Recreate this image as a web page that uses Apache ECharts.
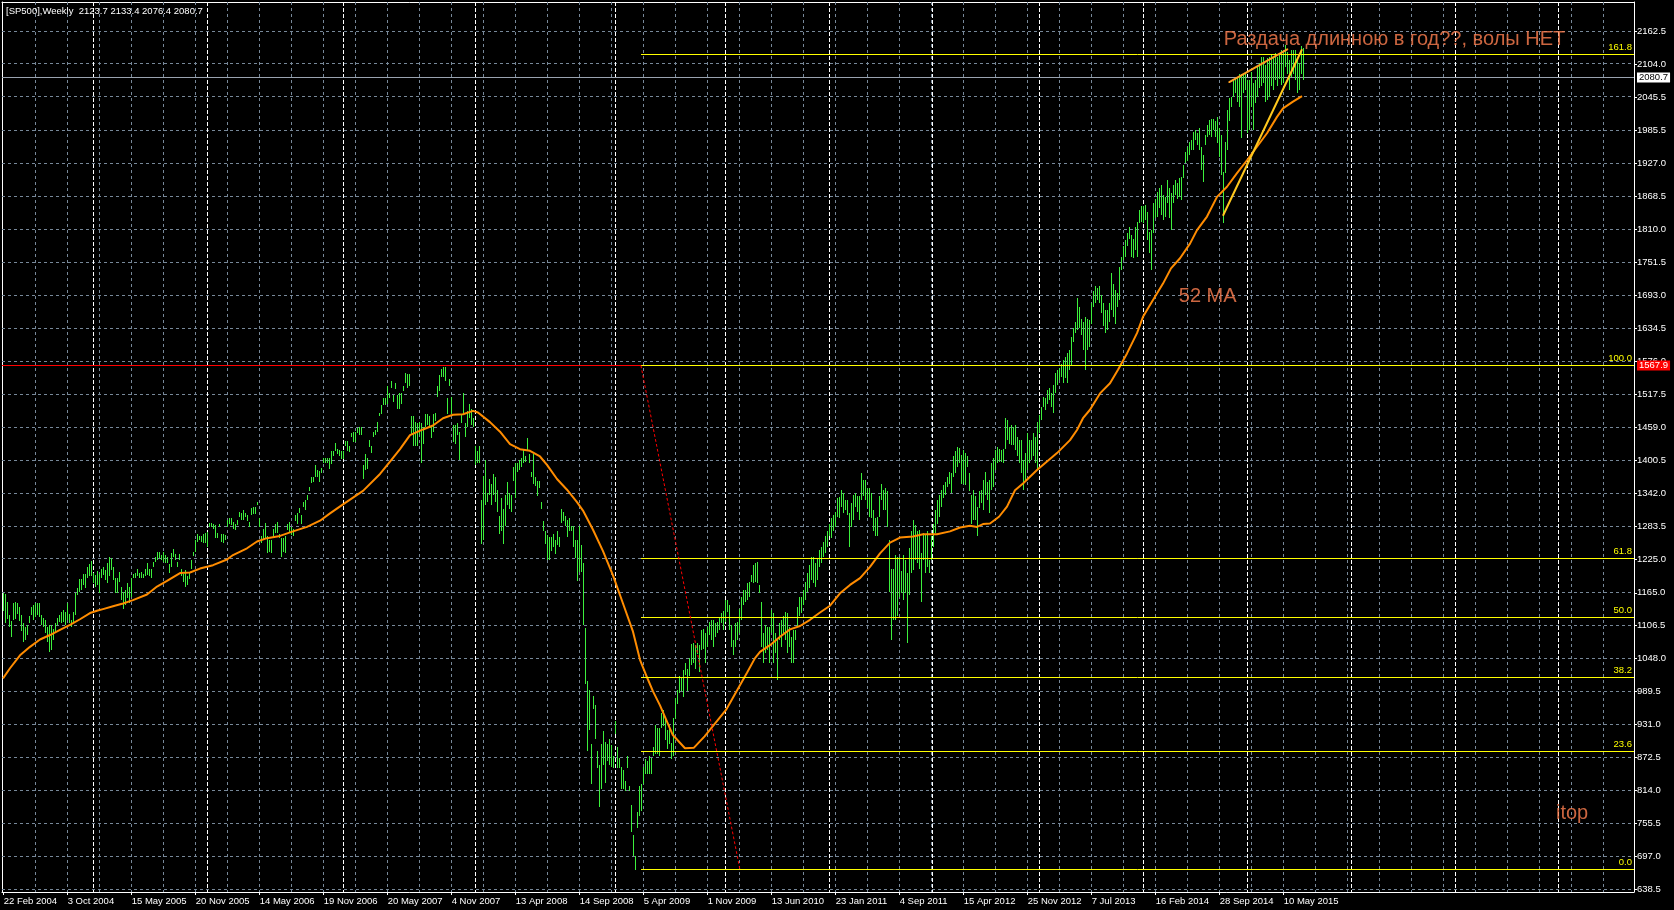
<!DOCTYPE html>
<html><head><meta charset="utf-8">
<script src="https://cdn.jsdelivr.net/npm/echarts@6/dist/echarts.min.js"></script>
<style>html,body{margin:0;padding:0;background:#000;}#c{width:1674px;height:910px;}</style>
</head><body><div id="c"></div>
<script>
// ---------------- DATA ----------------
const symbolName = '[SP500],Weekly';
const lastOHLC = [2123.7, 2133.4, 2076.4, 2080.7];
const dateLabels = ['22 Feb 2004','3 Oct 2004','15 May 2005','20 Nov 2005','14 May 2006','19 Nov 2006',
  '20 May 2007','4 Nov 2007','13 Apr 2008','14 Sep 2008','5 Apr 2009','1 Nov 2009','13 Jun 2010',
  '23 Jan 2011','4 Sep 2011','15 Apr 2012','25 Nov 2012','7 Jul 2013','16 Feb 2014','28 Sep 2014','10 May 2015'];
const barsPerDateLabel = 32;
const priceTicks = [638.5,697.0,755.5,814.0,872.5,931.0,989.5,1048.0,1106.5,1165.0,1225.0,1283.5,1342.0,
  1400.5,1459.0,1517.5,1576.0,1634.5,1693.0,1751.5,1810.0,1868.5,1927.0,1985.5,2045.5,2104.0,2162.5];
// year separators (bar position)
const yearSeparators = [45.7,102.7,170.7,236.7,306.7,361.7,413.7,465.4,518.7,570.7,622.9,674.8,726.5,778.4];
// weekly bars: [low, high]
const barRanges = [
[1133,1164],[1111,1162],[1119,1149],[1104,1125],[1087,1115],[1117,1146],[1119,1149],[1128,1146],[1115,1140],[1098,1125],
[1078,1111],[1081,1104],[1090,1108],[1111,1123],[1125,1140],[1117,1143],[1122,1146],[1125,1146],[1122,1146],[1108,1125],
[1104,1120],[1093,1117],[1078,1104],[1060,1108],[1063,1108],[1081,1100],[1096,1111],[1108,1121],[1114,1125],[1111,1131],
[1114,1134],[1108,1131],[1117,1146],[1111,1127],[1105,1117],[1114,1131],[1125,1164],[1161,1173],[1167,1189],[1170,1189],
[1179,1199],[1173,1199],[1191,1210],[1194,1216],[1194,1222],[1182,1200],[1176,1196],[1179,1204],[1165,1199],[1191,1208],
[1196,1211],[1188,1205],[1182,1217],[1194,1229],[1205,1226],[1188,1211],[1165,1191],[1164,1191],[1185,1202],[1152,1176],
[1137,1167],[1143,1170],[1155,1183],[1146,1176],[1158,1191],[1191,1199],[1192,1201],[1194,1207],[1192,1201],[1192,1202],
[1192,1199],[1194,1208],[1196,1218],[1194,1208],[1191,1207],[1210,1220],[1220,1229],[1224,1238],[1226,1238],[1223,1232],
[1220,1238],[1217,1232],[1218,1229],[1201,1216],[1210,1235],[1228,1242],[1224,1234],[1211,1220],[1224,1234],[1195,1208],
[1185,1199],[1176,1205],[1179,1195],[1189,1202],[1208,1223],[1230,1238],[1238,1258],[1256,1269],[1258,1266],[1256,1265],
[1253,1269],[1253,1272],[1247,1273],[1282,1289],[1282,1289],[1278,1288],[1262,1285],[1262,1271],[1282,1288],[1256,1269],
[1254,1269],[1259,1268],[1282,1294],[1288,1297],[1285,1297],[1279,1291],[1276,1288],[1285,1294],[1300,1309],[1295,1307],
[1294,1312],[1300,1307],[1293,1303],[1281,1291],[1303,1315],[1305,1317],[1305,1318],[1321,1327],[1282,1297],[1253,1265],
[1260,1279],[1262,1289],[1236,1265],[1238,1258],[1236,1259],[1262,1279],[1271,1288],[1271,1291],[1262,1269],[1228,1262],
[1238,1262],[1236,1265],[1276,1287],[1273,1291],[1268,1282],[1265,1278],[1293,1303],[1288,1306],[1306,1315],[1288,1303],
[1318,1327],[1312,1329],[1329,1339],[1345,1353],[1360,1371],[1362,1371],[1371,1392],[1371,1383],[1362,1382],[1377,1386],
[1395,1404],[1396,1404],[1395,1404],[1384,1404],[1394,1417],[1407,1417],[1417,1431],[1412,1420],[1407,1419],[1402,1417],
[1402,1417],[1426,1435],[1417,1434],[1415,1426],[1442,1448],[1432,1451],[1432,1451],[1448,1457],[1445,1459],[1445,1459],
[1367,1392],[1383,1411],[1384,1404],[1423,1437],[1414,1426],[1442,1451],[1445,1454],[1451,1468],[1479,1485],[1482,1498],
[1498,1510],[1498,1510],[1501,1532],[1510,1520],[1529,1541],[1504,1516],[1526,1538],[1492,1516],[1492,1520],[1501,1520],
[1523,1532],[1538,1556],[1529,1554],[1532,1554],[1445,1479],[1426,1479],[1426,1468],[1426,1467],[1445,1468],[1395,1467],
[1429,1460],[1460,1482],[1463,1482],[1457,1479],[1439,1463],[1451,1482],[1470,1485],[1513,1532],[1523,1551],[1548,1562],
[1549,1566],[1541,1566],[1482,1510],[1532,1544],[1482,1513],[1432,1463],[1429,1463],[1445,1467],[1401,1451],[1467,1482],
[1485,1520],[1442,1467],[1460,1488],[1476,1501],[1463,1492],[1460,1476],[1392,1426],[1395,1417],[1395,1426],[1252,1330],
[1258,1373],[1320,1401],[1326,1342],[1339,1367],[1320,1358],[1339,1376],[1326,1370],[1308,1348],[1270,1302],[1274,1333],
[1252,1314],[1283,1339],[1320,1361],[1314,1342],[1308,1339],[1364,1389],[1333,1395],[1379,1395],[1383,1401],[1389,1404],
[1395,1420],[1398,1407],[1417,1439],[1395,1411],[1370,1379],[1358,1411],[1355,1370],[1336,1364],[1351,1364],[1314,1326],
[1274,1292],[1252,1274],[1224,1267],[1224,1264],[1239,1264],[1246,1270],[1233,1258],[1249,1274],[1246,1264],[1289,1314],
[1292,1308],[1283,1302],[1264,1295],[1274,1298],[1274,1283],[1246,1283],[1227,1258],[1186,1258],[1202,1283],[1202,1249],
[1108,1217],[1003,1102],[884,1009],[922,993],[825,897],[959,981],[906,965],[853,884],[785,859],[816,897],
[859,919],[828,900],[866,897],[859,906],[856,894],[853,875],[915,937],[853,891],[853,872],[816,856],
[816,850],[813,831],[853,875],[813,822],[741,788],[697,735],[673,697],[747,775],[769,822],[778,825],
[825,856],[844,869],[844,866],[844,875],[844,872],[875,891],[878,931],[878,925],[875,925],[925,951],
[928,956],[904,945],[888,922],[896,931],[869,898],[875,943],[940,979],[968,993],[987,1018],[990,1013],
[980,1027],[1019,1040],[991,1029],[1017,1049],[1036,1074],[1041,1075],[1030,1072],[1057,1076],[1025,1072],[1063,1099],
[1066,1100],[1040,1093],[1069,1105],[1090,1114],[1081,1116],[1069,1117],[1087,1111],[1093,1114],[1099,1120],[1111,1129],
[1099,1133],[1114,1152],[1131,1152],[1099,1143],[1069,1108],[1055,1081],[1069,1111],[1081,1114],[1093,1137],[1117,1158],
[1143,1170],[1149,1170],[1152,1183],[1158,1185],[1185,1197],[1182,1214],[1185,1217],[1182,1220],[1164,1179],[1069,1149],
[1040,1093],[1058,1108],[1063,1105],[1040,1105],[1093,1134],[1040,1129],[1058,1093],[1011,1081],[1081,1111],[1069,1117],
[1093,1123],[1081,1131],[1058,1129],[1069,1105],[1040,1087],[1040,1099],[1081,1099],[1105,1140],[1123,1158],[1129,1158],
[1143,1170],[1152,1185],[1167,1200],[1173,1214],[1188,1229],[1182,1229],[1176,1217],[1188,1226],[1211,1241],[1217,1247],
[1229,1256],[1235,1265],[1247,1274],[1265,1288],[1262,1297],[1274,1303],[1282,1309],[1300,1333],[1297,1335],[1318,1348],
[1306,1342],[1312,1330],[1303,1330],[1247,1306],[1282,1324],[1294,1339],[1318,1342],[1309,1336],[1294,1336],[1330,1377],
[1336,1365],[1330,1365],[1315,1351],[1300,1351],[1297,1342],[1274,1312],[1265,1297],[1265,1300],[1300,1336],[1330,1359],
[1312,1348],[1312,1351],[1282,1345],[1167,1259],[1081,1208],[1117,1208],[1117,1232],[1123,1229],[1158,1229],[1164,1203],
[1152,1232],[1164,1223],[1075,1200],[1161,1244],[1200,1274],[1205,1294],[1223,1285],[1217,1274],[1208,1277],[1149,1235],
[1223,1271],[1200,1268],[1211,1274],[1200,1223],[1223,1265],[1247,1288],[1271,1312],[1288,1330],[1300,1339],[1318,1348],
[1333,1356],[1339,1362],[1353,1371],[1359,1380],[1342,1377],[1371,1407],[1377,1416],[1389,1424],[1395,1422],[1359,1410],
[1359,1419],[1356,1413],[1389,1407],[1345,1377],[1288,1339],[1294,1348],[1294,1336],[1265,1318],[1315,1345],[1324,1348],
[1312,1365],[1339,1380],[1330,1362],[1306,1365],[1347,1395],[1353,1404],[1383,1419],[1395,1424],[1398,1421],[1398,1419],
[1395,1421],[1421,1475],[1436,1472],[1430,1460],[1427,1463],[1427,1460],[1419,1463],[1407,1442],[1395,1436],[1377,1436],
[1347,1401],[1365,1413],[1383,1448],[1395,1436],[1401,1436],[1407,1448],[1395,1442],[1383,1469],[1448,1481],[1472,1495],
[1495,1513],[1490,1510],[1501,1525],[1507,1528],[1495,1519],[1484,1534],[1519,1555],[1534,1561],[1543,1564],[1549,1572],
[1537,1578],[1546,1584],[1537,1590],[1561,1596],[1569,1620],[1611,1635],[1626,1646],[1632,1688],[1635,1673],[1623,1652],
[1596,1646],[1561,1655],[1596,1652],[1602,1649],[1643,1679],[1673,1700],[1679,1709],[1685,1706],[1679,1709],[1661,1694],
[1638,1679],[1626,1667],[1632,1667],[1646,1679],[1667,1732],[1655,1714],[1643,1703],[1673,1697],[1685,1744],[1738,1762],
[1756,1780],[1762,1791],[1780,1803],[1794,1815],[1762,1800],[1759,1794],[1774,1815],[1762,1824],[1821,1845],[1824,1851],
[1821,1851],[1827,1854],[1791,1842],[1768,1806],[1738,1809],[1803,1857],[1830,1865],[1833,1877],[1848,1883],[1836,1889],
[1827,1871],[1833,1868],[1857,1898],[1830,1883],[1809,1874],[1857,1889],[1871,1898],[1865,1892],[1868,1901],[1862,1904],
[1901,1925],[1928,1948],[1931,1957],[1942,1966],[1951,1969],[1951,1984],[1969,1987],[1960,1981],[1951,1990],[1916,1957],
[1895,1942],[1960,1978],[1975,1996],[1978,2004],[1975,2007],[1987,2007],[1975,2002],[1963,2010],[1939,1990],[1907,1978],
[1821,1913],[1910,1966],[1951,2022],[2002,2043],[2028,2046],[2046,2077],[2052,2078],[2037,2081],[2028,2087],[1972,2087],
[2052,2087],[2058,2090],[1981,2076],[1987,2076],[2028,2090],[1987,2070],[2034,2076],[2046,2099],[2061,2105],[2064,2117],
[2070,2117],[2037,2102],[2040,2114],[2046,2117],[2064,2120],[2058,2117],[2076,2123],[2064,2117],[2078,2120],[2067,2129],
[2070,2123],[2099,2138],[2087,2126],[2058,2111],[2081,2129],[2087,2129],[2076,2129],[2052,2111],[2058,2105],[2087,2135],
[2076,2133]
];
// 52-week moving average: [bar, value]
const ma52 = [[0,1013],[3.5,1031],[8.5,1054],[13.5,1069],[18.5,1082],[23.5,1090],[28.5,1099],[33.5,1108],[38.5,1118],
[43.5,1129],[47,1133],[50,1136],[55,1141],[60,1146],[65,1152],[72,1162],[77,1176],[82,1186],[88.5,1200],[93.5,1201],
[98.5,1208],[105,1214],[112,1224],[115,1232],[122,1244],[127,1256],[132,1262],[138.5,1266],[145,1274],[152,1282],
[158.5,1293],[163.5,1306],[170,1322],[180,1346],[188.5,1376],[193.5,1398],[198.5,1420],[203.5,1445],[210,1455],
[215,1462],[220,1475],[225,1481],[230,1482],[235,1488],[237.5,1485],[243.5,1468],[248.5,1451],[253.5,1429],[258.5,1420],
[263.5,1417],[268.5,1407],[272,1392],[277,1367],[282,1348],[287,1326],[290,1311],[295,1277],[300,1239],[305,1196],
[310,1146],[315,1096],[318.5,1046],[322,1015],[325,990],[328.5,965],[334.8,913],[341,889],[345.5,890],[350.8,910],
[361.5,957],[372,1023],[376,1049],[378.5,1060],[383.5,1072],[388.5,1087],[393.5,1100],[398.5,1106],[403.5,1117],
[408.5,1130],[413.5,1142],[418.5,1164],[423.5,1179],[428.5,1191],[433.5,1211],[438.5,1235],[443.5,1254],[448.5,1263],
[455,1265],[460,1269],[467,1269],[473.5,1274],[478.5,1281],[483.5,1284],[487,1282],[490,1287],[493.5,1288],[498,1300],
[502,1318],[506,1347],[510,1359],[517,1383],[522,1398],[527,1413],[533.5,1436],[537,1454],[540,1475],[543.5,1490],
[548.5,1519],[553.5,1537],[557.5,1561],[562,1590],[567,1626],[570,1655],[575,1685],[580,1714],[584,1741],[588.5,1759],
[593.5,1785],[597,1809],[602,1833],[607,1868],[612,1886],[617,1910],[622,1933],[627,1957],[632,1981],[637,2010],
[640,2025],[645,2037],[649.5,2047]];
// Fibonacci retracement
const fibHigh = 1567.9, fibLow = 672.8;
const fibStartBar = 319.5, fibEndBar = 369;
const fibLevels = [0, 23.6, 38.2, 50.0, 61.8, 100.0, 161.8];
const redLevel = 1567.9;
const currentPrice = 2080.7;
// drawn trend lines: [bar1, price1, bar2, price2]
const upperTrend = [613.65, 2071.9, 642.65, 2130.0];
const risingTrend = [610.65, 1835.8, 649.85, 2128.8];
// text notes: [bar, price, text]
const notes = [[610.65, 2146.9, 'Раздача длинною в год??, волы НЕТ'], [588.15, 1691.3, '52 MA'], [776.75, 772.3, 'itop']];

// ---------------- CHART ----------------
const FONT = "'Liberation Sans', Arial, sans-serif";
const X_MAX = 816, Y_MIN = 633.7, Y_MAX = 2214.0;
const gridBarStep = 16, gridOffset = 0.85;
const crisp = v => Math.floor(v) + 0.5;
const dateTickValues = dateLabels.map((d, k) => gridOffset + k * barsPerDateLabel);
const vGrid = [];
for (let v = gridOffset + gridBarStep; v < X_MAX; v += gridBarStep) vGrid.push(v);

function hLineSeries(values, stroke, dash, z) {
  return { type: 'custom', z, silent: true, animation: false,
    data: values.map(v => [0, v]), encode: { x: 0, y: 1 },
    renderItem(params, api) {
      const cs = params.coordSys;
      const y = crisp(api.coord([0, api.value(1)])[1]);
      return { type: 'line', shape: { x1: cs.x, y1: y, x2: cs.x + cs.width, y2: y },
        style: { stroke, lineWidth: 1, lineDash: dash } };
    } };
}
function vLineSeries(values, stroke, dash, z) {
  return { type: 'custom', z, silent: true, animation: false,
    data: values.map(v => [v, Y_MIN]), encode: { x: 0, y: 1 },
    renderItem(params, api) {
      const cs = params.coordSys;
      const x = crisp(api.coord([api.value(0), Y_MIN])[0]);
      return { type: 'line', shape: { x1: x, y1: cs.y, x2: x, y2: cs.y + cs.height },
        style: { stroke, lineWidth: 1, lineDash: dash } };
    } };
}
function segSeries(segs, stroke, width, dash, z) {
  return { type: 'custom', z, silent: true, animation: false,
    data: segs, encode: { x: [0, 2], y: [1, 3] },
    renderItem(params, api) {
      const a = api.coord([api.value(0), api.value(1)]);
      const b = api.coord([api.value(2), api.value(3)]);
      return { type: 'line', shape: { x1: a[0], y1: a[1], x2: b[0], y2: b[1] },
        style: { stroke, lineWidth: width, lineDash: dash, lineCap: 'round' } };
    } };
}
function tagLine(level, stroke, tagBg, tagColor, z) {
  return { type: 'custom', z, silent: true, animation: false,
    data: [[0, level]], encode: { x: 0, y: 1 },
    renderItem(params, api) {
      const cs = params.coordSys;
      const y = crisp(api.coord([0, api.value(1)])[1]);
      return { type: 'group', children: [
        { type: 'line', shape: { x1: cs.x, y1: y, x2: cs.x + cs.width, y2: y }, style: { stroke, lineWidth: 1 } },
        { type: 'text', x: cs.x + cs.width + 3, y: y, style: { text: api.value(1).toFixed(1), fill: tagColor,
            backgroundColor: tagBg, padding: [1, 2, 0, 2], font: '9.5px ' + FONT, verticalAlign: 'middle', align: 'left', lineHeight: 9 } }
      ] };
    } };
}

const fibSegs = fibLevels.map(p => [fibStartBar, fibLow + (fibHigh - fibLow) * p / 100, X_MAX, fibLow + (fibHigh - fibLow) * p / 100, p]);

const option = {
  backgroundColor: '#000000',
  animation: false,
  title: { text: symbolName + '  ' + lastOHLC.map(v => v.toFixed(1)).join(' '), left: 6, top: 6, padding: 0,
    textStyle: { color: '#ffffff', fontSize: 9.5, fontWeight: 'normal', fontFamily: FONT } },
  grid: { left: 2, right: 40, top: 2, bottom: 18, containLabel: false, outerBoundsMode: 'none' },
  xAxis: [
    { type: 'value', min: 0, max: X_MAX, position: 'bottom',
      axisLine: { show: true, onZero: false, lineStyle: { color: '#ffffff', width: 1 } },
      axisTick: { show: true, customValues: dateTickValues, length: 3, lineStyle: { color: '#ffffff' } },
      axisLabel: { show: true, customValues: dateTickValues, color: '#ffffff', fontSize: 9.5, fontFamily: FONT,
        align: 'left', margin: 4, formatter: v => dateLabels[Math.round((v - gridOffset) / barsPerDateLabel)] || '' },
      splitLine: { show: false } },
    { type: 'value', min: 0, max: X_MAX, position: 'top',
      axisLine: { show: true, onZero: false, lineStyle: { color: '#ffffff', width: 1 } },
      axisTick: { show: false }, axisLabel: { show: false }, splitLine: { show: false } }
  ],
  yAxis: [
    { type: 'value', min: Y_MIN, max: Y_MAX, position: 'right',
      axisLine: { show: true, onZero: false, lineStyle: { color: '#ffffff', width: 1 } },
      axisTick: { show: true, customValues: priceTicks, length: 3, lineStyle: { color: '#ffffff' } },
      axisLabel: { show: true, customValues: priceTicks, color: '#ffffff', fontSize: 9.5, fontFamily: FONT,
        margin: 3, formatter: v => v.toFixed(1) },
      splitLine: { show: false } },
    { type: 'value', min: Y_MIN, max: Y_MAX, position: 'left',
      axisLine: { show: true, onZero: false, lineStyle: { color: '#ffffff', width: 1 } },
      axisTick: { show: false }, axisLabel: { show: false }, splitLine: { show: false } }
  ],
  series: [
    hLineSeries(priceTicks, '#778899', [3, 3], 1),
    vLineSeries(vGrid, '#778899', [3, 3], 1),
    vLineSeries(yearSeparators, '#ffffff', [4, 2], 1),
    tagLine(currentPrice, '#9aa3b0', '#ffffff', '#000000', 2),
    { type: 'custom', z: 3, silent: true, animation: false,
      data: barRanges.map((r, i) => [i + 0.5, r[0], r[1]]), encode: { x: 0, y: [1, 2] },
      renderItem(params, api) {
        const lo = api.coord([api.value(0), api.value(1)]);
        const hi = api.coord([api.value(0), api.value(2)]);
        const x = crisp(lo[0]);
        let y1 = Math.round(lo[1]), y2 = Math.round(hi[1]);
        if (y1 - y2 < 1) y2 = y1 - 1;
        return { type: 'line', shape: { x1: x, y1, x2: x, y2 }, style: { stroke: '#3cf03c', lineWidth: 1 } };
      } },
    { type: 'line', z: 4, silent: true, animation: false, showSymbol: false, symbol: 'none',
      data: ma52.map(p => [p[0] + 0.5, p[1]]),
      lineStyle: { color: '#ff8c00', width: 2 } },
    tagLine(redLevel, '#ff0000', '#ff0000', '#ffffff', 5),
    { type: 'custom', z: 6, silent: true, animation: false,
      data: fibSegs, encode: { x: [0, 2], y: [1, 3] },
      renderItem(params, api) {
        const a = api.coord([api.value(0), api.value(1)]);
        const b = api.coord([api.value(2), api.value(3)]);
        const y = crisp(a[1]);
        return { type: 'group', children: [
          { type: 'line', shape: { x1: Math.round(a[0]), y1: y, x2: b[0], y2: y }, style: { stroke: '#ffff00', lineWidth: 1 } },
          { type: 'text', x: b[0] - 2, y: y - 2, style: { text: api.value(4).toFixed(1), fill: '#ffff00',
              font: '9.5px ' + FONT, align: 'right', verticalAlign: 'bottom' } }
        ] };
      } },
    segSeries([[fibStartBar, fibHigh, fibEndBar, fibLow]], '#ff0000', 1, [2, 3], 6),
    segSeries([upperTrend], '#ffa020', 2, null, 7),
    segSeries([risingTrend], '#ffc81e', 2, null, 7),
    { type: 'scatter', z: 8, silent: true, animation: false, symbolSize: 1,
      itemStyle: { color: 'rgba(0,0,0,0)' },
      data: notes.map(n => ({ value: [n[0], n[1]], name: n[2] })),
      label: { show: true, position: 'right', distance: 0, formatter: p => p.name,
        color: '#ff7f50', fontSize: 20, fontFamily: FONT } }
  ]
};
const chart = echarts.init(document.getElementById('c'), null, { renderer: 'canvas' });
chart.setOption(option);
</script>
</body></html>
